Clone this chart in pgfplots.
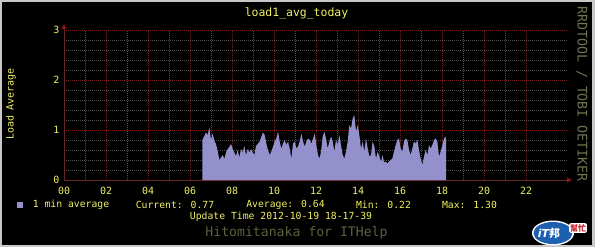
\documentclass[border=0pt]{standalone}
\usepackage{fontspec}
\setmainfont{DejaVu Sans Mono}
\newfontfamily\cjk{Noto Sans CJK TC}
\newfontfamily\sansfont{DejaVu Sans}
\usepackage{pgfplots}
\pgfplotsset{compat=1.18}
\usetikzlibrary{arrows.meta}
\definecolor{txt}{RGB}{240,240,100}
\definecolor{mgrid}{RGB}{120,28,28}
\definecolor{mingrid}{RGB}{78,78,78}
\definecolor{axisc}{RGB}{100,40,40}
\definecolor{arrowc}{RGB}{140,20,20}
\definecolor{areac}{RGB}{148,144,204}
\definecolor{wm}{RGB}{115,115,80}
\definecolor{sig}{RGB}{95,95,60}
\definecolor{border}{RGB}{200,200,200}
\definecolor{logob}{RGB}{30,95,175}
\definecolor{logor}{RGB}{200,30,40}

\pgfplotstableread{
h v
6.587 0.80
6.683 0.88
6.762 0.95
6.841 0.90
6.921 1.05
7.000 0.80
7.079 0.93
7.159 0.78
7.238 0.72
7.317 0.58
7.397 0.40
7.476 0.45
7.556 0.50
7.635 0.42
7.714 0.55
7.794 0.62
7.873 0.66
7.952 0.72
8.032 0.62
8.111 0.55
8.190 0.48
8.270 0.60
8.349 0.45
8.429 0.62
8.508 0.55
8.587 0.68
8.667 0.50
8.746 0.62
8.825 0.55
8.905 0.62
8.984 0.55
9.063 0.50
9.143 0.68
9.222 0.72
9.317 0.77
9.397 0.87
9.476 0.95
9.556 0.90
9.635 0.73
9.714 0.60
9.794 0.50
9.873 0.57
9.952 0.67
10.032 0.77
10.111 0.83
10.190 0.97
10.270 0.77
10.349 0.63
10.429 0.73
10.508 0.80
10.587 0.70
10.667 0.77
10.746 0.63
10.825 0.43
10.905 0.73
10.984 0.77
11.063 0.63
11.143 0.67
11.222 0.77
11.302 0.93
11.381 0.77
11.460 0.67
11.540 0.77
11.619 0.83
11.698 0.80
11.778 0.73
11.857 0.83
11.937 0.93
12.016 0.70
12.095 0.50
12.175 0.43
12.250 0.60
12.317 0.87
12.397 0.97
12.476 0.83
12.556 0.63
12.635 0.77
12.714 0.87
12.794 0.77
12.873 0.57
12.952 0.80
13.032 0.70
13.111 0.90
13.190 0.70
13.270 0.50
13.349 0.43
13.429 0.57
13.508 0.77
13.587 1.10
13.667 1.03
13.746 1.23
13.825 1.30
13.905 0.97
13.984 1.10
14.063 0.90
14.143 0.63
14.222 0.77
14.302 0.57
14.381 0.83
14.460 0.63
14.540 0.47
14.619 0.50
14.698 0.77
14.778 0.67
14.857 0.43
14.937 0.57
15.016 0.47
15.095 0.37
15.175 0.50
15.238 0.35
15.317 0.37
15.397 0.33
15.476 0.37
15.556 0.40
15.635 0.43
15.714 0.57
15.794 0.70
15.873 0.80
15.952 0.83
16.032 0.63
16.111 0.57
16.190 0.77
16.270 0.83
16.349 0.80
16.429 0.60
16.508 0.50
16.587 0.63
16.667 0.77
16.746 0.73
16.825 0.80
16.905 0.60
16.984 0.43
17.063 0.30
17.143 0.47
17.222 0.60
17.302 0.50
17.381 0.70
17.460 0.63
17.540 0.70
17.619 0.80
17.698 0.83
17.778 0.77
17.857 0.47
17.937 0.57
18.016 0.70
18.095 0.83
18.175 0.87
18.190 0.77
}\loadtable

\begin{document}
\begin{tikzpicture}[x=1bp,y=1bp]
\fill[border] (0,0) rectangle (595,247);
\fill[black] (2,2) rectangle (592,245);
\begin{axis}[
  at={(64bp,67bp)}, anchor=south west,
  scale only axis, width=504bp, height=150bp,
  xmin=0, xmax=24, ymin=0, ymax=3,
  xtick={0,2,4,6,8,10,12,14,16,18,20,22},
  xticklabels={00,02,04,06,08,10,12,14,16,18,20,22},
  minor x tick num=1,
  ytick={0,1,2,3}, minor y tick num=4,
  grid=both,
  major grid style={draw=mgrid, dash pattern=on 1bp off 1bp, line width=0.7bp},
  minor grid style={draw=mingrid, dash pattern=on 1bp off 1bp, line width=0.7bp},
  tick style={draw=none},
  axis lines=left,
  axis line style={draw=axisc, line width=0.8bp},
  x axis line style={-{Triangle[length=5bp,width=5bp,color=arrowc]}, shorten >=-4bp},
  y axis line style={-{Triangle[length=5bp,width=5bp,color=arrowc]}, shorten >=-6bp},
  /pgf/number format/assume math mode=true,
  ticklabel style={text=txt, font=\fontsize{10}{10}\selectfont},
  xticklabel style={yshift=-1.5bp},
  yticklabel style={xshift=1bp},
  clip=false,
]
\addplot[fill=areac, draw=none] table[x=h, y=v] {\loadtable} \closedcycle;
\end{axis}
\node[text=txt, font=\fontsize{11.5}{12}\selectfont] at (296.5,234) {load1\_avg\_today};
\node[text=txt, font=\fontsize{10}{10}\selectfont, rotate=90] at (11,143) {Load Average};
\node[text=wm, font=\fontsize{13.3}{14}\selectfont, rotate=-90] at (582,153) {RRDTOOL / TOBI OETIKER};
\node[text=txt, font=\fontsize{9.8}{10}\selectfont, anchor=west] at (13,42) {\textcolor{areac}{\rule{6bp}{6bp}}};
\node[text=txt, font=\fontsize{9.8}{10}\selectfont] at (71,42) {1 min average};
\node[text=txt, font=\fontsize{9.8}{10}\selectfont] at (175,42) {Current: 0.77};
\node[text=txt, font=\fontsize{9.8}{10}\selectfont] at (285.5,42) {Average: 0.64};
\node[text=txt, font=\fontsize{9.8}{10}\selectfont] at (383.5,42) {Min: 0.22};
\node[text=txt, font=\fontsize{9.8}{10}\selectfont] at (469.5,42) {Max: 1.30};
\node[text=txt, font=\fontsize{9.8}{10}\selectfont] at (281,30) {Update Time 2012-10-19 18-17-39};
\node[text=sig, font=\fontsize{13.2}{14}\selectfont] at (296.5,14) {Hitomitanaka for ITHelp};
% logo
\fill[white] (553,14) ellipse [x radius=21, y radius=12.5];
\fill[logob] (553,14) ellipse [x radius=19.5, y radius=11];
\node[text=white, font=\sansfont\bfseries\itshape\fontsize{11}{11}\selectfont, inner sep=0] at (549,14) {iT\cjk 邦};
\node[fill=white, rounded corners=2bp, text=logor, font=\cjk\bfseries\fontsize{8}{8}\selectfont, inner sep=1bp] at (578,19) {幫忙};
\end{tikzpicture}
\end{document}
